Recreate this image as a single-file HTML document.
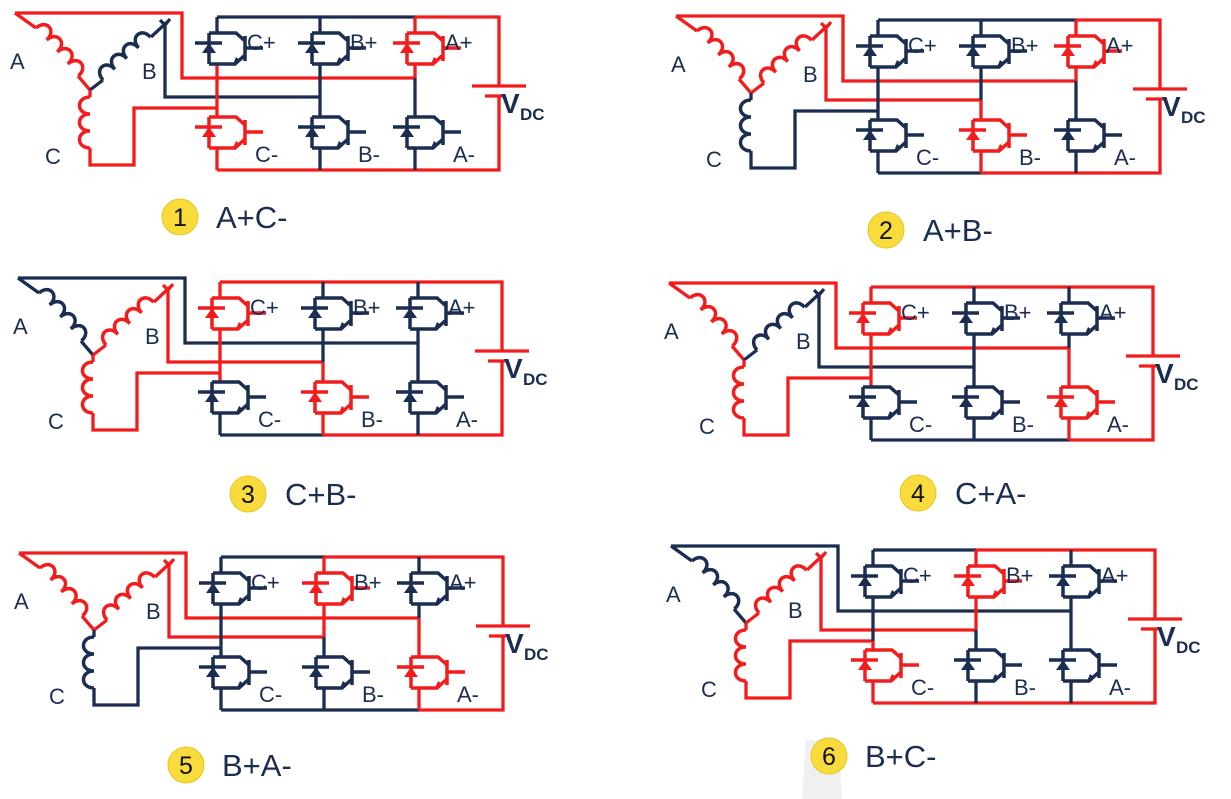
<!DOCTYPE html>
<html><head><meta charset="utf-8"><style>
html,body{margin:0;padding:0;background:#fff;}
svg{display:block;}
text{font-family:"Liberation Sans",sans-serif;}
</style></head><body>
<svg width="1231" height="799" viewBox="0 0 1231 799" xmlns="http://www.w3.org/2000/svg">
<defs>
<g id="sw" fill="none" stroke="currentColor" stroke-width="3.5">
<path d="M-8,0V31 M-8,0H19L28,8 M-8,31H18L28,22 M28,3V28 M28,15H46 M-22,10H5"/>
<polygon points="-15,20 -1,20 -8,10" fill="currentColor" stroke="none"/>
<polygon points="16,31 19,24 24,28" fill="currentColor" stroke="none"/>
</g>
<path id="coil" fill="none" stroke-width="3.5" d="M0,0 c0,-14 16,-14 16,0 c0,-14 16,-14 16,0 c0,-14 16,-14 16,0 c0,-14 16,-14 16,0"/>
<path id="coilc" fill="none" stroke-width="3.5" d="M0,0 c0,-14 17,-14 17,0 c0,-14 17,-14 17,0 c0,-14 17,-14 17,0"/>
</defs>
<polygon points="806,740 838,740 842,799 802,799" fill="#f0f0f0"/>
<g fill="none" stroke-width="3.3">

<!-- PANEL 1 A+C- -->
<g transform="translate(0,0)">
<path d="M217,17H415" stroke="#1b2d50"/>
<path d="M415,17H499V86" stroke="#f21c1c"/>
<path d="M472,86H526 M485,96H502" stroke="#f21c1c"/>
<path d="M499,96V170H217" stroke="#f21c1c"/>
<path d="M15,13H182V78H415 M15,13L36,28 M78,76L90,90" stroke="#f21c1c"/>
<use href="#coil" transform="translate(36,28) rotate(48.5)" stroke="#f21c1c"/>
<path d="M90,90L103,80 M151,37L165,24V97H320 M160,20L165,25L170,19" stroke="#1b2d50"/>
<use href="#coil" transform="translate(103,80) rotate(-42)" stroke="#1b2d50"/>
<path d="M90,90V97 M90,148V165H134V108H217" stroke="#f21c1c"/>
<use href="#coilc" transform="translate(90,148) rotate(-90)" stroke="#f21c1c"/>
<path d="M217,17V33" stroke="#1b2d50"/><path d="M217,64V117 M217,148V170" stroke="#f21c1c"/>
<path d="M320,17V33 M320,64V117 M320,148V170" stroke="#1b2d50"/>
<path d="M415,17V33 M415,64V78" stroke="#f21c1c"/><path d="M415,78V117 M415,148V170" stroke="#1b2d50"/>
<use href="#sw" x="217" y="33" color="#1b2d50"/><use href="#sw" x="320" y="33" color="#1b2d50"/><use href="#sw" x="415" y="33" color="#f21c1c"/>
<use href="#sw" x="217" y="117" color="#f21c1c"/><use href="#sw" x="320" y="117" color="#1b2d50"/><use href="#sw" x="415" y="117" color="#1b2d50"/>
<g fill="#1b2d50" stroke="none" font-size="22"><text x="247" y="50">C+</text><text x="350" y="50">B+</text><text x="445" y="50">A+</text><text x="255" y="162">C-</text><text x="358" y="162">B-</text><text x="453" y="162">A-</text>
<text x="10" y="69">A</text><text x="142" y="79">B</text><text x="45" y="164">C</text>
<text x="501" y="113" font-size="28" font-weight="bold">V</text><text x="520" y="120" font-size="17" font-weight="bold">DC</text></g>
</g>

<!-- PANEL 2 A+B- -->
<g transform="translate(661,3)">
<path d="M217,17H415 M217,170H320" stroke="#1b2d50"/>
<path d="M415,17H499V86" stroke="#f21c1c"/>
<path d="M472,86H526 M485,96H502" stroke="#f21c1c"/>
<path d="M499,96V170H320" stroke="#f21c1c"/>
<path d="M15,13H182V78H415 M15,13L36,28 M78,76L90,90" stroke="#f21c1c"/>
<use href="#coil" transform="translate(36,28) rotate(48.5)" stroke="#f21c1c"/>
<path d="M90,90L103,80 M151,37L165,24V97H320 M160,20L165,25L170,19" stroke="#f21c1c"/>
<use href="#coil" transform="translate(103,80) rotate(-42)" stroke="#f21c1c"/>
<path d="M90,90V97 M90,148V165H134V108H217" stroke="#1b2d50"/>
<use href="#coilc" transform="translate(90,148) rotate(-90)" stroke="#1b2d50"/>
<path d="M217,17V33 M217,64V117 M217,148V170" stroke="#1b2d50"/>
<path d="M320,17V33 M320,64V97" stroke="#1b2d50"/><path d="M320,97V117 M320,148V170" stroke="#f21c1c"/>
<path d="M415,17V33 M415,64V78" stroke="#f21c1c"/><path d="M415,78V117 M415,148V170" stroke="#1b2d50"/>
<use href="#sw" x="217" y="33" color="#1b2d50"/><use href="#sw" x="320" y="33" color="#1b2d50"/><use href="#sw" x="415" y="33" color="#f21c1c"/>
<use href="#sw" x="217" y="117" color="#1b2d50"/><use href="#sw" x="320" y="117" color="#f21c1c"/><use href="#sw" x="415" y="117" color="#1b2d50"/>
<g fill="#1b2d50" stroke="none" font-size="22"><text x="247" y="50">C+</text><text x="350" y="50">B+</text><text x="445" y="50">A+</text><text x="255" y="162">C-</text><text x="358" y="162">B-</text><text x="453" y="162">A-</text>
<text x="10" y="69">A</text><text x="142" y="79">B</text><text x="45" y="164">C</text>
<text x="501" y="113" font-size="28" font-weight="bold">V</text><text x="520" y="120" font-size="17" font-weight="bold">DC</text></g>
</g>

<!-- PANEL 3 C+B- -->
<g transform="translate(3,265)">
<path d="M217,170H320" stroke="#1b2d50"/>
<path d="M217,17H499V86" stroke="#f21c1c"/>
<path d="M472,86H526 M485,96H502" stroke="#f21c1c"/>
<path d="M499,96V170H320" stroke="#f21c1c"/>
<path d="M15,13H182V78H415 M15,13L36,28 M78,76L90,90" stroke="#1b2d50"/>
<use href="#coil" transform="translate(36,28) rotate(48.5)" stroke="#1b2d50"/>
<path d="M90,90L103,80 M151,37L165,24V97H320 M160,20L165,25L170,19" stroke="#f21c1c"/>
<use href="#coil" transform="translate(103,80) rotate(-42)" stroke="#f21c1c"/>
<path d="M90,90V97 M90,148V165H134V108H217" stroke="#f21c1c"/>
<use href="#coilc" transform="translate(90,148) rotate(-90)" stroke="#f21c1c"/>
<path d="M217,17V33 M217,64V117" stroke="#f21c1c"/><path d="M217,148V170" stroke="#1b2d50"/>
<path d="M320,17V33 M320,64V97" stroke="#1b2d50"/><path d="M320,97V117 M320,148V170" stroke="#f21c1c"/>
<path d="M415,17V33 M415,64V117 M415,148V170" stroke="#1b2d50"/>
<use href="#sw" x="217" y="33" color="#f21c1c"/><use href="#sw" x="320" y="33" color="#1b2d50"/><use href="#sw" x="415" y="33" color="#1b2d50"/>
<use href="#sw" x="217" y="117" color="#1b2d50"/><use href="#sw" x="320" y="117" color="#f21c1c"/><use href="#sw" x="415" y="117" color="#1b2d50"/>
<g fill="#1b2d50" stroke="none" font-size="22"><text x="247" y="50">C+</text><text x="350" y="50">B+</text><text x="445" y="50">A+</text><text x="255" y="162">C-</text><text x="358" y="162">B-</text><text x="453" y="162">A-</text>
<text x="10" y="69">A</text><text x="142" y="79">B</text><text x="45" y="164">C</text>
<text x="501" y="113" font-size="28" font-weight="bold">V</text><text x="520" y="120" font-size="17" font-weight="bold">DC</text></g>
</g>

<!-- PANEL 4 C+A- -->
<g transform="translate(654,270)">
<path d="M217,170H415" stroke="#1b2d50"/>
<path d="M217,17H499V86" stroke="#f21c1c"/>
<path d="M472,86H526 M485,96H502" stroke="#f21c1c"/>
<path d="M499,96V170H415" stroke="#f21c1c"/>
<path d="M15,13H182V78H415 M15,13L36,28 M78,76L90,90" stroke="#f21c1c"/>
<use href="#coil" transform="translate(36,28) rotate(48.5)" stroke="#f21c1c"/>
<path d="M90,90L103,80 M151,37L165,24V97H320 M160,20L165,25L170,19" stroke="#1b2d50"/>
<use href="#coil" transform="translate(103,80) rotate(-42)" stroke="#1b2d50"/>
<path d="M90,90V97 M90,148V165H134V108H217" stroke="#f21c1c"/>
<use href="#coilc" transform="translate(90,148) rotate(-90)" stroke="#f21c1c"/>
<path d="M217,17V33 M217,64V117" stroke="#f21c1c"/><path d="M217,148V170" stroke="#1b2d50"/>
<path d="M320,17V33 M320,64V117 M320,148V170" stroke="#1b2d50"/>
<path d="M415,17V33 M415,64V78" stroke="#1b2d50"/><path d="M415,78V117 M415,148V170" stroke="#f21c1c"/>
<use href="#sw" x="217" y="33" color="#f21c1c"/><use href="#sw" x="320" y="33" color="#1b2d50"/><use href="#sw" x="415" y="33" color="#1b2d50"/>
<use href="#sw" x="217" y="117" color="#1b2d50"/><use href="#sw" x="320" y="117" color="#1b2d50"/><use href="#sw" x="415" y="117" color="#f21c1c"/>
<g fill="#1b2d50" stroke="none" font-size="22"><text x="247" y="50">C+</text><text x="350" y="50">B+</text><text x="445" y="50">A+</text><text x="255" y="162">C-</text><text x="358" y="162">B-</text><text x="453" y="162">A-</text>
<text x="10" y="69">A</text><text x="142" y="79">B</text><text x="45" y="164">C</text>
<text x="501" y="113" font-size="28" font-weight="bold">V</text><text x="520" y="120" font-size="17" font-weight="bold">DC</text></g>
</g>

<!-- PANEL 5 B+A- -->
<g transform="translate(4,540)">
<path d="M217,17H320 M217,170H415" stroke="#1b2d50"/>
<path d="M320,17H499V86" stroke="#f21c1c"/>
<path d="M472,86H526 M485,96H502" stroke="#f21c1c"/>
<path d="M499,96V170H415" stroke="#f21c1c"/>
<path d="M15,13H182V78H415 M15,13L36,28 M78,76L90,90" stroke="#f21c1c"/>
<use href="#coil" transform="translate(36,28) rotate(48.5)" stroke="#f21c1c"/>
<path d="M90,90L103,80 M151,37L165,24V97H320 M160,20L165,25L170,19" stroke="#f21c1c"/>
<use href="#coil" transform="translate(103,80) rotate(-42)" stroke="#f21c1c"/>
<path d="M90,90V97 M90,148V165H134V108H217" stroke="#1b2d50"/>
<use href="#coilc" transform="translate(90,148) rotate(-90)" stroke="#1b2d50"/>
<path d="M217,17V33 M217,64V117 M217,148V170" stroke="#1b2d50"/>
<path d="M320,17V33 M320,64V97" stroke="#f21c1c"/><path d="M320,97V117 M320,148V170" stroke="#1b2d50"/>
<path d="M415,17V33 M415,64V78" stroke="#1b2d50"/><path d="M415,78V117 M415,148V170" stroke="#f21c1c"/>
<use href="#sw" x="217" y="33" color="#1b2d50"/><use href="#sw" x="320" y="33" color="#f21c1c"/><use href="#sw" x="415" y="33" color="#1b2d50"/>
<use href="#sw" x="217" y="117" color="#1b2d50"/><use href="#sw" x="320" y="117" color="#1b2d50"/><use href="#sw" x="415" y="117" color="#f21c1c"/>
<g fill="#1b2d50" stroke="none" font-size="22"><text x="247" y="50">C+</text><text x="350" y="50">B+</text><text x="445" y="50">A+</text><text x="255" y="162">C-</text><text x="358" y="162">B-</text><text x="453" y="162">A-</text>
<text x="10" y="69">A</text><text x="142" y="79">B</text><text x="45" y="164">C</text>
<text x="501" y="113" font-size="28" font-weight="bold">V</text><text x="520" y="120" font-size="17" font-weight="bold">DC</text></g>
</g>

<!-- PANEL 6 B+C- -->
<g transform="translate(656,533)">
<path d="M217,17H320" stroke="#1b2d50"/>
<path d="M320,17H499V86" stroke="#f21c1c"/>
<path d="M472,86H526 M485,96H502" stroke="#f21c1c"/>
<path d="M499,96V170H217" stroke="#f21c1c"/>
<path d="M15,13H182V78H415 M15,13L36,28 M78,76L90,90" stroke="#1b2d50"/>
<use href="#coil" transform="translate(36,28) rotate(48.5)" stroke="#1b2d50"/>
<path d="M90,90L103,80 M151,37L165,24V97H320 M160,20L165,25L170,19" stroke="#f21c1c"/>
<use href="#coil" transform="translate(103,80) rotate(-42)" stroke="#f21c1c"/>
<path d="M90,90V97 M90,148V165H134V108H217" stroke="#f21c1c"/>
<use href="#coilc" transform="translate(90,148) rotate(-90)" stroke="#f21c1c"/>
<path d="M217,17V33 M217,64V108" stroke="#1b2d50"/><path d="M217,108V117 M217,148V170" stroke="#f21c1c"/>
<path d="M320,17V33 M320,64V97" stroke="#f21c1c"/><path d="M320,97V117 M320,148V170" stroke="#1b2d50"/>
<path d="M415,17V33 M415,64V117 M415,148V170" stroke="#1b2d50"/>
<use href="#sw" x="217" y="33" color="#1b2d50"/><use href="#sw" x="320" y="33" color="#f21c1c"/><use href="#sw" x="415" y="33" color="#1b2d50"/>
<use href="#sw" x="217" y="117" color="#f21c1c"/><use href="#sw" x="320" y="117" color="#1b2d50"/><use href="#sw" x="415" y="117" color="#1b2d50"/>
<g fill="#1b2d50" stroke="none" font-size="22"><text x="247" y="50">C+</text><text x="350" y="50">B+</text><text x="445" y="50">A+</text><text x="255" y="162">C-</text><text x="358" y="162">B-</text><text x="453" y="162">A-</text>
<text x="10" y="69">A</text><text x="132" y="85">B</text><text x="45" y="164">C</text>
<text x="501" y="113" font-size="28" font-weight="bold">V</text><text x="520" y="120" font-size="17" font-weight="bold">DC</text></g>
</g>
</g>

<!-- Step labels -->
<g stroke="none">
<g fill="#f9dc3c" stroke="#e6c52a" stroke-width="1">
<circle cx="180" cy="217" r="18"/><circle cx="886" cy="230" r="18"/><circle cx="248" cy="494" r="18"/>
<circle cx="918" cy="493" r="18"/><circle cx="186" cy="765" r="18"/><circle cx="829" cy="756" r="18"/>
</g>
<g fill="#111" font-size="25" text-anchor="middle">
<text x="180" y="226">1</text><text x="886" y="239">2</text><text x="248" y="503">3</text>
<text x="918" y="502">4</text><text x="186" y="774">5</text><text x="829" y="765">6</text>
</g>
<g fill="#1b2d50" font-size="31">
<text x="216" y="228">A+C-</text><text x="923" y="241">A+B-</text><text x="285" y="505">C+B-</text>
<text x="955" y="504">C+A-</text><text x="222" y="776">B+A-</text><text x="865" y="767">B+C-</text>
</g>
</g>
</svg>
</body></html>
